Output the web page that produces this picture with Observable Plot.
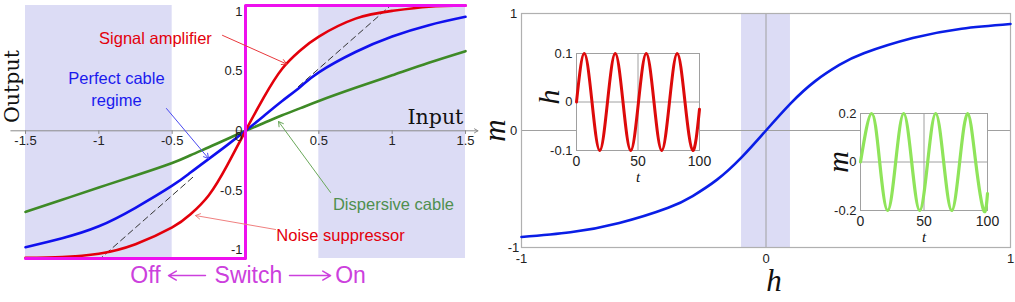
<!DOCTYPE html>
<html><head><meta charset="utf-8">
<script src="https://cdn.jsdelivr.net/npm/d3@7"></script>
<script src="https://cdn.jsdelivr.net/npm/@observablehq/plot@0.6"></script>
<style>
body{margin:0;background:#fff;}
#wrap{position:relative;width:1015px;height:302px;overflow:hidden;background:#fff;}
#wrap svg{position:absolute;}
</style></head><body><div id="wrap"></div>
<script>
// ---------- LEFT PANEL DATA ----------
const leftX  = [-1.5,-1.25,-1,-0.75,-0.5,-0.375,-0.25,-0.125,0,0.125,0.25,0.375,0.5,0.75,1,1.25,1.5];
const redY   = [-1.065,-1.058,-1.03,-0.95,-0.81,-0.70,-0.54,-0.29,0,0.28,0.52,0.675,0.79,0.94,1.005,1.04,1.05];
const blueY  = [-0.975,-0.90,-0.80,-0.645,-0.46,-0.35,-0.235,-0.12,0,0.125,0.25,0.37,0.49,0.66,0.79,0.885,0.955];
const greenY = [-0.68,-0.578,-0.475,-0.375,-0.27,-0.205,-0.138,-0.069,0,0.065,0.13,0.19,0.25,0.36,0.465,0.57,0.667];
const dashX   = [0.36,0.99,-0.36,-0.98];
const dashY   = [0.37,1.05,-0.39,-1.06];
const dashSeg = ["pos","pos","neg","neg"];
const stepX = [-1.5,0,0,1.5];
const stepY = [-1.07,-1.07,1.05,1.05];
const shadeX1 = [-1.5,0.5];
const shadeX2 = [-0.5,1.5];
const leftXTicks = [-1.5,-1,-0.5,0.5,1,1.5];
const leftXTickLabels = ["-1.5","-1","-0.5","0.5","1","1.5"];
const leftYTicks = [1,0.5,0,-0.5,-1];
const leftYTickLabels = ["1","0.5","0","-0.5","-1"];
const annText  = ["Signal amplifier","Perfect cable\nregime","Dispersive cable","Noise suppressor"];
const annX     = [-0.614,-0.88,1.009,0.648];
const annY     = [0.79,0.36,-0.60,-0.861];
const annColor = ["#e3000b","#1a1aee","#4f8f4f","#e3000b"];
const arrX1 = [-0.157,-0.539,0.58,0.205];
const arrY1 = [0.80,0.187,-0.517,-0.827];
const arrX2 = [0.28,-0.252,0.225,-0.341];
const arrY2 = [0.56,-0.232,0.078,-0.71];
const arrColor = ["#e8383c","#4a4af0","#6aa85a","#f08080"];
const switchText = ["Off","Switch","On"];
const switchX = [-0.682,0.02,0.716];
const switchArrX1 = [-0.273,0.30];
const switchArrX2 = [-0.525,0.58];

// ---------- RIGHT PANEL DATA ----------
const hVals = [-1,-0.8,-0.6,-0.4,-0.3,-0.2,-0.1,0,0.1,0.2,0.3,0.4,0.6,0.8,1];
const mVals = [-0.91,-0.87,-0.79,-0.66,-0.56,-0.42,-0.23,0,0.23,0.42,0.56,0.66,0.79,0.87,0.91];
const bandX1 = [-0.1], bandX2 = [0.1];
const rightTicks = [-1,0,1];
const rightTickLabels = ["-1","0","1"];
// inset 1 : h(t)
const tH = [0,6.3,12.6,18.9,25.2,31.5,37.8,44.1,50.4,56.7,63,69.3,75.6,81.9,88.2,94.5,100];
const hT = [0,0.1,0,-0.1,0,0.1,0,-0.1,0,0.1,0,-0.1,0,0.1,0,-0.1,-0.015];
const in1YTicks = [0.1,0,-0.1], in1YLabels = ["0.1","0","-0.1"];
// inset 2 : m(t)
const tM = [0,8.8,15.1,21.4,27.7,34,40.3,46.6,52.9,59.2,65.5,71.8,78.1,84.4,90.7,97,100];
const mT = [0,0.2,0,-0.2,0,0.2,0,-0.2,0,0.2,0,-0.2,0,0.2,0,-0.2,-0.13];
const in2YTicks = [0.2,0,-0.2], in2YLabels = ["0.2","0","-0.2"];
const inXTicks = [0,50,100], inXLabels = ["0","50","100"];

const SANS = "Liberation Sans, Arial, Helvetica, sans-serif";
const SERIF = "Liberation Serif, Times New Roman, serif";
const wrap = document.getElementById("wrap");
function place(svg, left, top){ svg.style.left = left+"px"; svg.style.top = top+"px"; wrap.appendChild(svg); }
const baseStyle = {background:"transparent", fontFamily: SANS, fontSize:"13px", overflow:"visible"};

// ---------- LEFT PLOT ----------
const yLo = -1.07, yHi = 1.05;
const left = Plot.plot({
  width: 490, height: 302,
  marginLeft: 25, marginRight: 25, marginTop: 5, marginBottom: 44,
  x: {domain: [-1.5,1.5], axis: null},
  y: {domain: [yLo,yHi], axis: null},
  style: baseStyle,
  marks: [
    Plot.rect(shadeX1, {x1: shadeX1, x2: shadeX2, y1: [yLo,yLo], y2: [yHi,yHi], fill: "#dcdcf5"}),
    Plot.arrow([0], {x1: [-1.6], y1: [0], x2: [1.585], y2: [0], stroke: "#8a8a8a", strokeWidth: 1, headLength: 6}),
    Plot.ruleX(leftXTicks, {x: leftXTicks, y1: 0, y2: -0.03, stroke: "#8a8a8a"}),
    Plot.line(dashX, {x: dashX, y: dashY, z: dashSeg, stroke: "#333", strokeWidth: 1, strokeDasharray: "6,4"}),
    Plot.line(leftX, {x: leftX, y: greenY, stroke: "#3e8a26", strokeWidth: 2.6, curve: "natural"}),
    Plot.line(leftX, {x: leftX, y: blueY, stroke: "#1010ee", strokeWidth: 2.6, curve: "natural"}),
    Plot.line(leftX, {x: leftX, y: redY, stroke: "#e3000b", strokeWidth: 2.6, curve: "natural"}),
    Plot.line(stepX, {x: stepX, y: stepY, stroke: "#ee10ee", strokeWidth: 3}),
    Plot.arrow(arrX1, {x1: arrX1, y1: arrY1, x2: arrX2, y2: arrY2, stroke: arrColor, strokeWidth: 1, headLength: 8}),
    Plot.text(annText, {x: annX, y: annY, text: annText, fill: annColor, fontSize: 16.5, lineHeight: 1.35}),
    Plot.text(leftXTickLabels, {x: leftXTicks, y: leftXTicks.map(() => 0), text: leftXTickLabels, dy: 10, fill: "#222", fontSize: 13}),
    Plot.text(leftYTickLabels, {x: leftYTicks.map(() => 0), y: leftYTicks, text: leftYTickLabels, dx: -3, textAnchor: "end", fill: "#222", fontSize: 13}),
    Plot.text(["0"], {x: [0], y: [0], text: ["0"], dx: -7, dy: 6, fill: "#222", fontSize: 13}),
    Plot.text(["Input"], {x: [1.295], y: [0.116], text: ["Input"], fontFamily: "DejaVu Serif, serif", fontSize: 20.5, fill: "#111"}),
    Plot.text(["Output"], {x: [-1.592], y: [0.371], text: ["Output"], rotate: -90, fontFamily: "DejaVu Serif, serif", fontSize: 20.5, fill: "#111"}),
    Plot.text(switchText, {x: switchX, y: switchX.map(() => -1.213), text: switchText, fill: "#cc40dd", fontSize: 23}),
    Plot.arrow(switchArrX1, {x1: switchArrX1, x2: switchArrX2, y1: [-1.213,-1.213], y2: [-1.213,-1.213], stroke: "#cc40dd", strokeWidth: 1.5, headLength: 9})
  ]
});
place(left, 0, 0);

// ---------- RIGHT MAIN PLOT ----------
const right = Plot.plot({
  width: 525, height: 302,
  marginLeft: 31, marginRight: 5, marginTop: 13, marginBottom: 55,
  x: {domain: [-1,1], axis: null},
  y: {domain: [-1,1], axis: null},
  style: baseStyle,
  marks: [
    Plot.rect(bandX1, {x1: bandX1, x2: bandX2, y1: [-1], y2: [1], fill: "#dcdcf5"}),
    Plot.ruleY([0], {stroke: "#a0a0a0"}),
    Plot.ruleX([0], {stroke: "#a0a0a0"}),
    Plot.frame({stroke: "#b0b0b0", strokeWidth: 1.2}),
    Plot.line(hVals, {x: hVals, y: mVals, stroke: "#0a1ee6", strokeWidth: 2.6, curve: "natural"}),
    Plot.text(rightTickLabels, {x: rightTicks.map(() => -1), y: rightTicks, text: rightTickLabels, dx: -8, fill: "#222", fontSize: 13}),
    Plot.text(rightTickLabels, {x: rightTicks, y: rightTicks.map(() => -1), text: rightTickLabels, dy: 11, fill: "#222", fontSize: 13}),
    Plot.text(["m"], {x: [-1], y: [0], text: ["m"], dx: -26, rotate: -90, fontFamily: SERIF, fontStyle: "italic", fontSize: 31, fill: "#111"}),
    Plot.text(["h"], {x: [0], y: [-1], text: ["h"], dx: 8, dy: 34, fontFamily: SERIF, fontStyle: "italic", fontSize: 31, fill: "#111"})
  ]
});
place(right, 490, 0);

// ---------- INSET 1 ----------
const inset1 = Plot.plot({
  width: 179, height: 150,
  marginLeft: 46, marginRight: 10, marginTop: 13, marginBottom: 40,
  x: {domain: [0,100], axis: null},
  y: {domain: [-0.1,0.1], axis: null},
  style: baseStyle,
  marks: [
    Plot.frame({fill: "white", stroke: "#a0a0a0"}),
    Plot.ruleY([0], {stroke: "#a0a0a0"}),
    Plot.ruleX([50], {stroke: "#a0a0a0"}),
    Plot.line(tH, {x: tH, y: hT, stroke: "#dd0a0a", strokeWidth: 3, curve: "natural"}),
    Plot.text(in1YLabels, {x: in1YTicks.map(() => 0), y: in1YTicks, text: in1YLabels, dx: -4, textAnchor: "end", fill: "#222", fontSize: 13}),
    Plot.text(inXLabels, {x: inXTicks, y: inXTicks.map(() => -0.1), text: inXLabels, dy: 11, fill: "#222", fontSize: 14}),
    Plot.text(["t"], {x: [50], y: [-0.1], text: ["t"], dy: 27, fontFamily: SERIF, fontStyle: "italic", fontSize: 15, fill: "#111"}),
    Plot.text(["h"], {x: [0], y: [0], text: ["h"], dx: -27, dy: -5, rotate: -90, fontFamily: SERIF, fontStyle: "italic", fontSize: 30, fill: "#111"})
  ]
});
place(inset1, 530, 40);

// ---------- INSET 2 ----------
const inset2 = Plot.plot({
  width: 187, height: 145,
  marginLeft: 50, marginRight: 10, marginTop: 13, marginBottom: 35,
  x: {domain: [0,100], axis: null},
  y: {domain: [-0.2,0.2], axis: null},
  style: baseStyle,
  marks: [
    Plot.frame({fill: "white", stroke: "#a0a0a0"}),
    Plot.ruleY([0], {stroke: "#a0a0a0"}),
    Plot.ruleX([50], {stroke: "#a0a0a0"}),
    Plot.line(tM, {x: tM, y: mT, stroke: "#8fe45a", strokeWidth: 3.2, curve: "natural"}),
    Plot.text(in2YLabels, {x: in2YTicks.map(() => 0), y: in2YTicks, text: in2YLabels, dx: -4, textAnchor: "end", fill: "#222", fontSize: 13}),
    Plot.text(inXLabels, {x: inXTicks, y: inXTicks.map(() => -0.2), text: inXLabels, dy: 11, fill: "#222", fontSize: 14}),
    Plot.text(["t"], {x: [50], y: [-0.2], text: ["t"], dy: 27, fontFamily: SERIF, fontStyle: "italic", fontSize: 15, fill: "#111"}),
    Plot.text(["m"], {x: [0], y: [0], text: ["m"], dx: -22, rotate: -90, fontFamily: SERIF, fontStyle: "italic", fontSize: 30, fill: "#111"})
  ]
});
place(inset2, 810, 100);
</script></body></html>
